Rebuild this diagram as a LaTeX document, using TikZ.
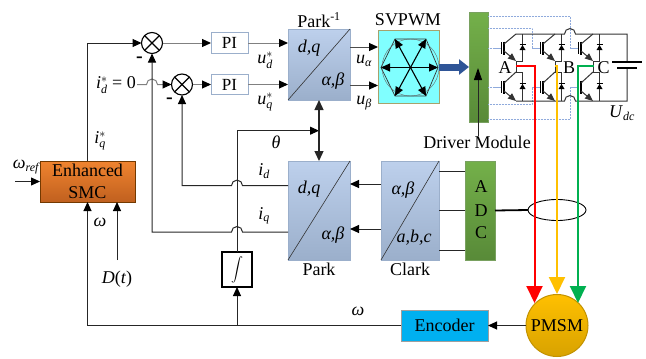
\documentclass[tikz,border=0pt]{standalone}
\usepackage{amsmath}
\usepackage{fontspec}
\setmainfont{Liberation Serif}
\usetikzlibrary{arrows.meta,shapes.geometric,calc}
\DeclareMathSizes{18}{18}{12}{8}
\definecolor{parkT}{HTML}{BDD0EC}\definecolor{parkB}{HTML}{9BAFCB}
\definecolor{grnT}{HTML}{74B04A}\definecolor{grnB}{HTML}{588A38}
\definecolor{smcT}{HTML}{F0842F}\definecolor{smcB}{HTML}{C0601F}
\definecolor{motT}{HTML}{FFC000}\definecolor{motB}{HTML}{D8A200}
\definecolor{gateblue}{HTML}{8FAADC}
\definecolor{bigblue}{HTML}{2F5597}
\newcommand\ital[1]{\textit{#1}}
\tikzset{
  every node/.style={font=\fontsize{18}{22}\selectfont,inner sep=0pt,outer sep=0pt},
  wire/.style={line width=1pt,draw=black!85},
  lite/.style={line width=1pt,draw=black!50},
  tip/.style={-{Triangle[length=9pt,width=8pt,color=black]}},
  tipboth/.style={{Triangle[length=10pt,width=9pt]}-{Triangle[length=10pt,width=9pt]}},
  smalltip/.style={-{Triangle[length=9pt,width=8pt]}},
  sumnode/.style={circle,draw=black,line width=1.1pt,fill=white,minimum size=21pt},
  pibox/.style={draw=parkB,line width=1pt,fill=white,minimum width=37pt,minimum height=20.5pt,font=\fontsize{17}{20}\selectfont},
  parkbox/.style={rectangle,draw=parkB,top color=parkT,bottom color=parkB,line width=.8pt},
  adcbox/.style={rectangle,top color=grnT,bottom color=grnB,draw=grnB!80,line width=.5pt},
  gatesolid/.style={draw=gateblue,line width=.7pt},
  rail/.style={draw=black!80,line width=1pt},
  phase/.style={line width=2pt,-{Triangle[length=17pt,width=16pt]}},
  minusmark/.style={font=\bfseries\fontsize{20}{20}\selectfont},
}
% one inverter leg: #1 x of the IGBT bar
\newcommand\invleg[1]{%
  \begin{scope}[shift={(#1,0)}]
    \foreach \yy in {48,87}{
      \draw[line width=.9pt] (-3,\yy-6)--(-3,\yy+6);
      \draw[line width=1.6pt] (0,\yy-6.5)--(0,\yy+6.5);
      \draw[gatesolid] (-11,\yy)--(-3,\yy);
    }
    \draw[rail] (0,44)--(12,34);
    \draw[rail,-{Triangle[length=8pt,width=6.5pt]}] (0,51)--(12,61);
    \draw[rail] (0,83)--(12,72);
    \draw[rail,-{Triangle[length=8pt,width=6.5pt]}] (0,91)--(12,101);
    \draw[rail] (12,61)--(18.5,61) (18.5,34)--(18.5,61);
    \draw[rail] (12,72)--(18.5,72) (18.5,72)--(18.5,101);
    \draw[rail] (12,61)--(12,72);
    \fill (15.5,50)--(21.5,50)--(18.5,45)--cycle;
    \fill (15.5,89)--(21.5,89)--(18.5,84)--cycle;
    \draw[line width=.9pt] (15.5,44.5)--(21.5,44.5) (15.5,83.5)--(21.5,83.5);
  \end{scope}}
\begin{document}
\begin{tikzpicture}[x=1pt,y=-1pt]
\useasboundingbox (0,0) rectangle (646,359);

% rows
\coordinate (rowTheta) at (0,130.7);
\coordinate (rowId) at (0,185.6);
\coordinate (rowIq) at (0,232);
\coordinate (rowB) at (0,325.5);
\coordinate (rowA) at (0,184);
\coordinate (rowC) at (0,229);

% blocks
\node[sumnode] (s1) at (152,43) {};
\node[sumnode] (s2) at (182,84.5) {};
\draw[line width=1.1pt] (s1.north west)--(s1.south east) (s1.north east)--(s1.south west);
\draw[line width=1.1pt] (s2.north west)--(s2.south east) (s2.north east)--(s2.south west);
\node[pibox] (pi1) at (229.5,43) {PI};
\node[pibox] (pi2) at (229.5,84.5) {PI};
\node[parkbox,minimum width=62pt,minimum height=71pt] (pku) at (319,64.5) {};
\node[parkbox,minimum width=62pt,minimum height=99pt] (pkl) at (319,210.5) {};
\node[parkbox,minimum width=58pt,minimum height=99pt] (clk) at (410,210.5) {};
\node[adcbox,minimum width=30pt,minimum height=99pt,align=center] (adc) at (480,210.5) {};
\node at (481,187) {A};
\node at (481,210.5) {D};
\node at (481,233) {C};
\node[draw=black!55!orange,line width=.8pt,top color=smcT,bottom color=smcB,minimum width=95pt,minimum height=41pt,align=center] (smc) at (87.5,181.5) {Enhanced\\SMC};
\node[draw=black,line width=1.3pt,fill=white,minimum width=30pt,minimum height=35pt,font=\fontsize{12.5}{14}\selectfont] (int) at (237,269.5) {$\displaystyle\int$};
\node[draw=black!25!gray!60,fill={rgb,255:red,0;green,176;blue,240},line width=.8pt,minimum width=87pt,minimum height=31pt] (enc) at (444.5,325.5) {Encoder};
\node[circle,draw=motB!90!black,line width=1pt,top color=motT,bottom color=motB,minimum size=62pt] (pmsm) at (557,325.5) {PMSM};
\node[ellipse,draw=black,line width=.9pt,minimum width=58pt,minimum height=21pt] (ell) at (557,210) {};
\node[rectangle,draw=black!30!yellow!50!gray,line width=.8pt,fill={rgb,255:red,128;green,255;blue,255},minimum width=61pt,minimum height=73pt] (svm) at (408.5,66.5) {};
\node[adcbox,minimum width=19pt,minimum height=110pt] (drv) at (478.5,67) {};

% diagonals
\draw[line width=.6pt,black!80] (pku.south west)--(pku.north east);
\draw[line width=.6pt,black!80] (pkl.south west)--(pkl.north east);
\draw[line width=.6pt,black!80] (clk.south west)--(clk.north east);

% block texts
\node at (309,48) {\ital{d,q}};
\node at (333,81) {\ital{α,β}};
\node at (309,189) {\ital{d,q}};
\node at (333,235) {\ital{α,β}};
\node at (403,190) {\ital{α,β}};
\node at (414,238) {\ital{a,b,c}};

% SVPWM glyph
\coordinate (hc) at (410.5,67.5);
\draw[line width=.7pt,black!80] (381,67.5)--(395,39)--(426,39)--(438,67.5)--(426,96)--(395,96)--cycle;
\draw[line width=.4pt,black!60] (hc) ellipse [x radius=28.5,y radius=28.5];
\foreach \ex/\ey in {381/67.5,438/67.5,395/39,426/39,426/96,395/96}{
  \draw[line width=1.1pt,smalltip] (hc)--(\ex,\ey);
}

% labels
\node at (319,20) {Park$^{\text{-1}}$};
\node at (408,20) {SVPWM};
\node at (319,269) {Park};
\node at (410,269) {Clark};
\node (drvlab) at (477,142) {Driver Module};
\node at (116,85) {\ital{i}$_{\ital{d}}^{*}$ = 0};
\node at (100,141) {\ital{i}$_{\ital{q}}^{*}$};
\node at (265,60) {\ital{u}$_{\ital{d}}^{*}$};
\node at (265,102) {\ital{u}$_{\ital{q}}^{*}$};
\node at (364,61) {\ital{u}$_{\ital{α}}$};
\node at (364,103) {\ital{u}$_{\ital{β}}$};
\node at (276,142) {\ital{θ}};
\node at (264,171) {\ital{i}$_{\ital{d}}$};
\node at (264,216) {\ital{i}$_{\ital{q}}$};
\node at (100,222) {\ital{ω}};
\node at (358,311) {\ital{ω}};
\node at (26,167) {\ital{ω}$_{\ital{ref}}$};
\node (dt) at (117,279) {\ital{D}(\ital{t})};
\node at (505,68) {A};
\node at (569,68) {B};
\node at (603.5,68) {C};
\node at (622,113) {\ital{U}$_{\ital{dc}}$};
\node[minusmark] at (139.5,60) {-};
\node[minusmark] at (169.5,101) {-};

% control connectors
\coordinate (wr) at (15,181.5);
\draw[wire,line width=.8pt,tip] (wr)--(smc.west);
\draw[wire,tip] (smc.north)--(87.5,43)--(s1.west);
\draw[lite,tip] (s1.east)--(pi1.west);
\draw[lite,tip] (s2.east)--(pi2.west);
\draw[lite,tip] (pi1.east)--(pi1.east -| pku.west);
\draw[lite,tip] (pi2.east)--(pi2.east -| pku.west);
\coordinate (idstar) at (137,84.5);
\draw[lite,tip] (idstar)--(146.5,84.5) arc[start angle=180,end angle=360,radius=5.5]--(s2.west);
\draw[wire,tip] (pkl.west |- rowId)--(242.5,185.6) arc[start angle=0,end angle=-180,radius=5.5]--(182,185.6)--(s2.south);
\draw[wire,tip] (pkl.west |- rowIq)--(242.5,232) arc[start angle=0,end angle=-180,radius=5.5]--(152,232)--(s1.south);
\draw[wire,tip] (int.north)--(237,130.7)--(pku.south |- rowTheta);
\draw[wire,line width=1.3pt,tipboth] (pku.south)--(pkl.north);
\draw[wire,line width=1pt,tip] (237,325.5)--(int.south);
\draw[wire,tip] (enc.west)--(87.5,325.5)--(smc.south);
\draw[wire,tip] (117,260)--(117,202);
\draw[wire,tip] (pmsm.west)--(enc.east);
\draw[lite,draw=black!70,tip] (pku.east |- 0,47)--(svm.west |- 0,47);
\draw[lite,draw=black!70,tip] (pku.east |- 0,85.5)--(svm.west |- 0,85.5);
\draw[wire,tip] (clk.west |- rowA)--(pkl.east |- rowA);
\draw[wire,tip] (clk.west |- rowC)--(pkl.east |- rowC);
\draw[wire] (adc.west |- 0,171)--(clk.east |- 0,171);
\draw[wire] (adc.west)--(clk.east);
\draw[wire] (adc.west |- 0,250)--(clk.east |- 0,250);
\draw[line width=1.8pt] (adc.east)--(ell.west);

% big arrow into the driver
\draw[bigblue,line width=7pt,-{Triangle[length=10pt,width=15pt]}] (svm.east |- 0,67)--(drv.west |- 0,67);
\coordinate (drvtip) at (478,68);
\draw[wire,-{Triangle[length=12pt,width=8pt,color=black]}] (drvlab.north -| drvtip)--(drvtip);

% gate drive lines
\draw[gatesolid,line width=.5pt,densely dotted] (488,16)--(570,16)--(570,48)--(578,48);
\draw[gatesolid,line width=.5pt,densely dotted] (488,28)--(532,28)--(532,48)--(540,48);
\draw[gatesolid,line width=.5pt,densely dotted] (488,48)--(493,48);
\draw[gatesolid,line width=.5pt,densely dotted] (488,87)--(493,87);
\draw[gatesolid,line width=.5pt,densely dotted] (488,104)--(532,104)--(532,87)--(540,87);
\draw[gatesolid,line width=.5pt,densely dotted] (488,119)--(570,119)--(570,87)--(578,87);

% inverter
\invleg{504}
\invleg{543}
\invleg{581}
\draw[rail] (516,34)--(564.5,34) arc[start angle=180,end angle=360,radius=5.5]--(627,34)--(627,62.3);
\draw[rail] (516,101)--(564.5,101) arc[start angle=180,end angle=360,radius=5.5]--(627,101)--(627,68);
\draw[line width=2pt] (612,62.3)--(642,62.3);
\draw[line width=2pt] (617,68)--(637,68);

% phase lines
\draw[phase,color=red] (516,66)--(534.5,66)--(534.5,303);
\draw[phase,color={rgb,255:red,255;green,192;blue,0}] (555,66)--(557,66)--(557,294);
\draw[phase,color={rgb,255:red,0;green,176;blue,80}] (594,66)--(578,66)--(578,303);
\end{tikzpicture}
\end{document}
